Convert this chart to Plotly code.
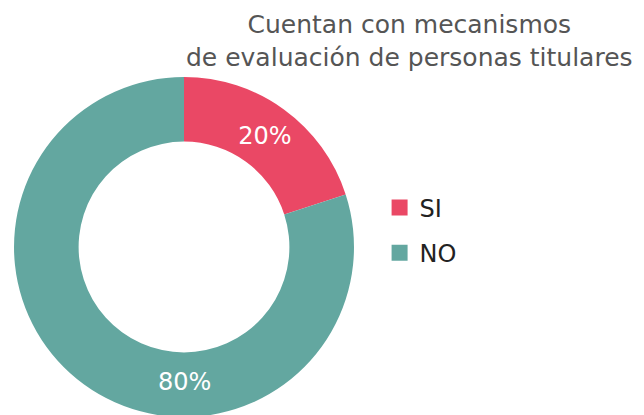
import plotly.graph_objects as go

labels = ["SI", "NO"]
values = [20, 80]
colors = ["#EA4865", "#63A7A0"]
title_text = "Cuentan con mecanismos<br>de evaluación de personas titulares"

total = sum(values)
pct = [f"{round(100 * v / total)}%" for v in values]

dom_x = [0.0093, 0.5373]
dom_y = [0.0145, 0.8337]
hole = 0.62

fig = go.Figure()
fig.add_trace(go.Pie(
    labels=labels,
    values=values,
    hole=hole,
    sort=False,
    direction="clockwise",
    rotation=0,
    marker=dict(colors=colors, line=dict(width=0)),
    text=[pct[0], ""],
    textinfo="text",
    textposition="inside",
    insidetextorientation="horizontal",
    textfont=dict(family="DejaVu Sans", size=24, color="white"),
    domain=dict(x=dom_x, y=dom_y),
    showlegend=False,
    hoverinfo="label+percent",
))

# legend entries with bigger square swatches
for i, (lab, col) in enumerate(zip(labels, colors)):
    fig.add_trace(go.Scatter(
        x=[None], y=[None], mode="markers", name=lab,
        legendgroup=f"g{i}",
        marker=dict(symbol="square", size=17, color=col),
    ))

# 80% label sits at the bottom of the ring
cx = (dom_x[0] + dom_x[1]) / 2
cy = (dom_y[0] + dom_y[1]) / 2
r_out = (dom_y[1] - dom_y[0]) / 2
r_mid = r_out * (1 + hole) / 2

fig.update_layout(
    width=644,
    height=415,
    margin=dict(l=0, r=0, t=0, b=0),
    paper_bgcolor="white",
    plot_bgcolor="white",
    font=dict(family="DejaVu Sans"),
    xaxis=dict(visible=False),
    yaxis=dict(visible=False),
    showlegend=True,
    legend=dict(
        x=0.577, y=0.464, xanchor="left", yanchor="middle",
        font=dict(family="DejaVu Sans", size=24, color="#222222"),
        tracegroupgap=11, itemsizing="trace",
    ),
    annotations=[
        dict(
            text=title_text,
            x=0.624, y=1.0, xref="paper", yref="paper",
            xanchor="center", yanchor="top",
            showarrow=False, align="center",
            font=dict(family="DejaVu Sans", size=25, color="#555555"),
        ),
        dict(
            text=pct[1],
            x=cx, y=cy - r_mid + 0.006, xref="paper", yref="paper",
            xanchor="center", yanchor="middle",
            showarrow=False,
            font=dict(family="DejaVu Sans", size=24, color="white"),
        ),
    ],
)

fig.write_html("out.html")
